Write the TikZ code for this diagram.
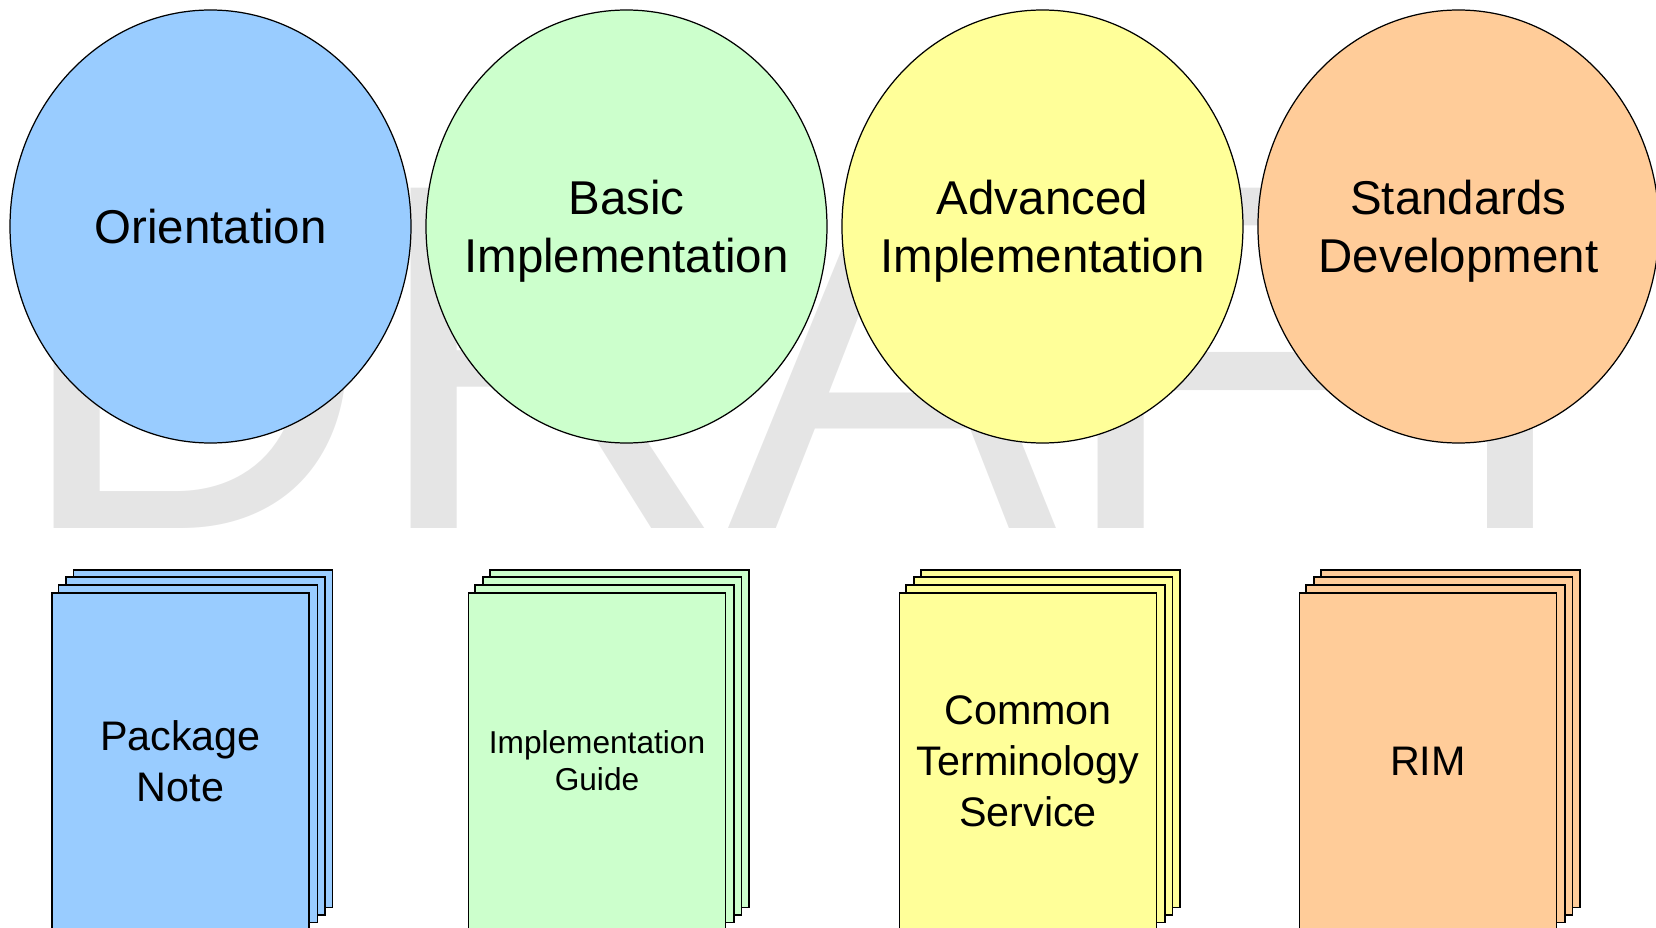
\documentclass[tikz,border=0pt]{standalone}
\usepackage{fontspec}
\setmainfont{Liberation Sans}
\usetikzlibrary{
    backgrounds,
    positioning,
    shapes.geometric
}

\definecolor{orientblue}{HTML}{99CCFF}
\definecolor{basicgreen}{HTML}{CCFFCC}
\definecolor{advyellow}{HTML}{FFFF99}
\definecolor{stdorange}{HTML}{FFCC99}
\definecolor{draftgray}{HTML}{E5E5E5}

\tikzset{
    phase/.style={ellipse, draw, line width=0.7pt, minimum width=80.2mm,
        minimum height=86.6mm, inner sep=0pt},
    phasetext/.style={align=center, inner sep=0pt, text depth=0pt,
        font=\fontsize{27}{33}\selectfont},
    sheet/.style={draw, line width=1pt},
    docpage/.style={sheet, rectangle, minimum width=51.4mm,
        minimum height=67.2mm, inner sep=0pt, align=center,
        font=\fontsize{23.5}{29}\selectfont}
}

\begin{document}
\begin{tikzpicture}[x=0.2mm, y=-0.2mm]
    \useasboundingbox (0,0) rectangle (1656,928);

    % Watermark
    \node[anchor=base west, inner sep=0pt, text=draftgray,
        font=\fontsize{281.5}{281.5}\selectfont] (draft) at (13,528) {DRAFT};

    % Phases
    \node[phase, fill=orientblue] (orient) at (210.5,226.5) {};
    \node[phase, fill=basicgreen, right=2.75mm of orient] (basic) {};
    \node[phase, fill=advyellow, right=2.75mm of basic] (adv) {};
    \node[phase, fill=stdorange, right=2.75mm of adv] (std) {};

    \node[phasetext] (orienttxt) at (orient) {Orientation};
    \node[phasetext] (basictxt) at (basic) {Basic\\Implementation};
    \node[phasetext] (advtxt) at (adv) {Advanced\\Implementation};
    \node[phasetext] (stdtxt) at (std) {Standards\\Development};

    % Documents (front page)
    \node[docpage, fill=orientblue] (pn) at (180.5,761) {Package\\Note};
    \node[docpage, fill=basicgreen, font=\fontsize{18}{21}\selectfont] (ig) at (597,761) {Implementation\\Guide};
    \node[docpage, fill=advyellow] (cts) at (1028,761) {Common\\Terminology\\Service};
    \node[docpage, fill=stdorange] (rim) at (1428,761) {RIM};

    % Pages behind
    \begin{scope}[on background layer]
        \foreach \doc/\col in {pn/orientblue, ig/basicgreen, cts/advyellow, rim/stdorange}
            \foreach \k in {3,2,1}
                \filldraw[sheet, fill=\col] ([shift={(\k*7.5,-\k*7.5)}]\doc.south west)
                    rectangle ([shift={(\k*7.5,-\k*7.5)}]\doc.north east);
    \end{scope}
\end{tikzpicture}
\end{document}
